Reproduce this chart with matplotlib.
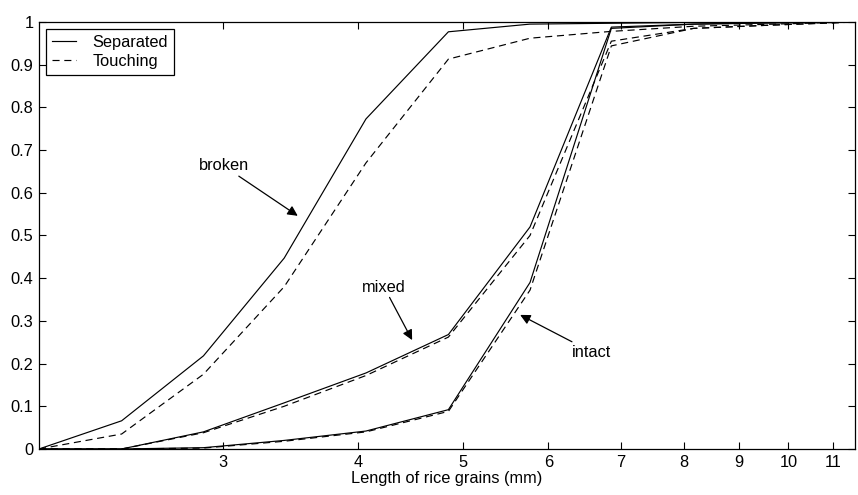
import matplotlib
matplotlib.use("Agg")
import matplotlib.pyplot as plt
from matplotlib.ticker import FixedLocator, NullLocator, FixedFormatter

plt.rcParams['font.family'] = ['Liberation Sans', 'DejaVu Sans']

# grain length (mm)
length = [2.03, 2.42, 2.88, 3.42, 4.07, 4.85, 5.77, 6.86, 8.17, 9.72, 11.56]

broken_sep = [0.0, 0.066, 0.218, 0.447, 0.773, 0.977, 0.995, 0.997, 0.999, 1.0, 1.0]
broken_tch = [0.0, 0.035, 0.175, 0.380, 0.670, 0.913, 0.962, 0.978, 0.990, 0.995, 1.0]
mixed_sep = [0.0, 0.0, 0.040, 0.108, 0.178, 0.268, 0.520, 0.988, 0.995, 0.998, 1.0]
mixed_tch = [0.0, 0.0, 0.038, 0.100, 0.172, 0.262, 0.500, 0.955, 0.985, 0.993, 1.0]
intact_sep = [0.0, 0.0, 0.003, 0.020, 0.042, 0.092, 0.390, 0.985, 0.995, 0.998, 1.0]
intact_tch = [0.0, 0.0, 0.002, 0.018, 0.040, 0.088, 0.372, 0.944, 0.985, 0.993, 1.0]

xticks = [3, 4, 5, 6, 7, 8, 9, 10, 11]
yticks = [0, 0.1, 0.2, 0.3, 0.4, 0.5, 0.6, 0.7, 0.8, 0.9, 1]
ytick_labels = ["0", "0.1", "0.2", "0.3", "0.4", "0.5", "0.6", "0.7", "0.8", "0.9", "1"]

fs = 11.8
fig = plt.figure(figsize=(8.58, 4.95), dpi=100)
ax = fig.add_axes([0.0455, 0.093, 0.951, 0.8626])

lw = 0.85
dash = (0, (6, 4))
ax.plot(length, broken_sep, color='black', lw=lw, label='Separated')
ax.plot(length, broken_tch, color='black', lw=lw, linestyle=dash, label='Touching')
ax.plot(length, mixed_sep, color='black', lw=lw)
ax.plot(length, mixed_tch, color='black', lw=lw, linestyle=dash)
ax.plot(length, intact_sep, color='black', lw=lw)
ax.plot(length, intact_tch, color='black', lw=lw, linestyle=dash)

ax.set_xscale('log')
ax.set_xlim(length[0], 11.52)
ax.set_ylim(0, 1)
ax.xaxis.set_major_locator(FixedLocator(xticks))
ax.xaxis.set_major_formatter(FixedFormatter([str(t) for t in xticks]))
ax.xaxis.set_minor_locator(NullLocator())
ax.yaxis.set_major_locator(FixedLocator(yticks))
ax.yaxis.set_major_formatter(FixedFormatter(ytick_labels))
ax.yaxis.set_minor_locator(NullLocator())

ax.tick_params(direction='in', top=True, right=True, length=5, width=0.8,
               labelsize=fs, pad=4)
for s in ax.spines.values():
    s.set_linewidth(0.9)

ax.set_xlabel('Length of rice grains (mm)', fontsize=fs, labelpad=1)

arrow = dict(arrowstyle='-|>', color='black', lw=0.9, mutation_scale=15,
             shrinkA=0, shrinkB=0)
ax.annotate('broken', xy=(3.52, 0.546), xytext=(3.006, 0.663),
            ha='center', va='center', fontsize=fs, arrowprops=arrow)
ax.annotate('mixed', xy=(4.49, 0.255), xytext=(4.23, 0.379),
            ha='center', va='center', fontsize=fs, arrowprops=arrow)
ax.annotate('intact', xy=(5.65, 0.314), xytext=(6.58, 0.227),
            ha='center', va='center', fontsize=fs, arrowprops=arrow)

leg = ax.legend(loc='upper left', fontsize=fs, frameon=True, fancybox=False,
                edgecolor='black', framealpha=1, handlelength=1.45,
                borderaxespad=0.45, borderpad=0.35, labelspacing=0.25,
                handletextpad=1.0)
leg.get_frame().set_linewidth(0.9)

fig.savefig('out.png', dpi=100)
